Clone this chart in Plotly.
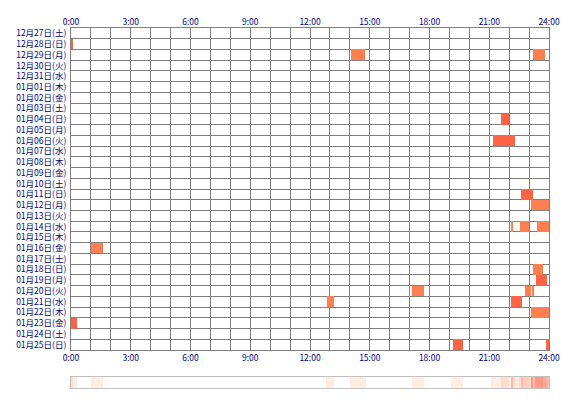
import numpy as np
import plotly.graph_objects as go

# row labels (top to bottom)
days = ["12月27日(土)", "12月28日(日)", "12月29日(月)", "12月30日(火)", "12月31日(水)",
        "01月01日(木)", "01月02日(金)", "01月03日(土)", "01月04日(日)", "01月05日(月)",
        "01月06日(火)", "01月07日(水)", "01月08日(木)", "01月09日(金)", "01月10日(土)",
        "01月11日(日)", "01月12日(月)", "01月13日(火)", "01月14日(水)", "01月15日(木)",
        "01月16日(金)", "01月17日(土)", "01月18日(日)", "01月19日(月)", "01月20日(火)",
        "01月21日(水)", "01月22日(木)", "01月23日(金)", "01月24日(土)", "01月25日(日)"]

# activity blocks: day index, start hour, end hour
bar_day = [1, 2, 2, 8, 10, 15, 15, 16, 18, 18, 18, 18, 20, 22, 23,
           24, 24, 24, 25, 25, 25, 26, 27, 29, 29]
bar_start = [0.0, 14.05, 23.2, 21.6, 21.2, 22.62, 22.7, 23.1, 22.1, 22.55, 22.93, 23.4, 1.0, 23.2, 23.35,
             17.1, 22.8, 23.15, 12.85, 22.1, 22.2, 23.1, 0.0, 19.2, 23.85]
bar_end = [0.08, 14.75, 23.8, 22.0, 22.3, 22.7, 23.2, 24.0, 22.17, 22.9, 23.0, 24.0, 1.6, 23.7, 23.9,
           17.7, 23.1, 23.2, 13.2, 22.15, 22.65, 24.0, 0.3, 19.7, 24.0]
bar_kind = [0, 1, 1, 0, 0, 0, 0, 1, 1, 1, 1, 1, 1, 1, 0,
            1, 1, 1, 1, 0, 0, 1, 0, 0, 0]

hour_labels = ["0:00", "3:00", "6:00", "9:00", "12:00", "15:00", "18:00", "21:00", "24:00"]
hour_ticks = list(range(0, 25, 3))

colors = ["#FF6347", "#FF7F50"]
navy = "#000080"

fig = go.Figure()
fig.add_trace(go.Bar(
    y=[d + 0.5 for d in bar_day],
    x=[e - s for s, e in zip(bar_start, bar_end)],
    base=bar_start, orientation="h", width=1,
    marker=dict(color=[colors[k] for k in bar_kind], line_width=0),
    xaxis="x", yaxis="y", showlegend=False, hoverinfo="skip"))

# summary strip from the blocks
bins = np.arange(0, 24, 0.1)
dens = np.zeros(len(bins))
for s, e in zip(bar_start, bar_end):
    dens += ((bins + 0.1 > s) & (bins < e)).astype(float)
fig.add_trace(go.Heatmap(
    x=bins + 0.05, y=[0], z=[dens], xaxis="x2", yaxis="y2",
    colorscale=[[0, "#ffffff"], [0.25, "#FFE4D4"], [1, "#FF9A88"]],
    showscale=False, hoverinfo="skip"))

font = dict(family="Noto Sans CJK JP", size=8.5, color=navy)
grid = dict(showgrid=True, gridcolor="#808080", gridwidth=1)
# page body adds an 8px offset, so margins are shifted by that amount
fig.update_layout(
    width=570, height=400, margin=dict(l=63, r=29, t=0, b=0, autoexpand=False),
    plot_bgcolor="white", paper_bgcolor="white", font=font, bargap=0,
    xaxis=dict(domain=[0, 1], range=[0, 24], tickvals=hour_ticks, ticktext=hour_labels,
               showgrid=False, minor=dict(dtick=1, **grid), zeroline=False,
               showline=True, linecolor="#808080", mirror=True, ticks="", anchor="y"),
    xaxis3=dict(range=[0, 24], tickvals=hour_ticks, ticktext=hour_labels, side="top",
                overlaying="x", showgrid=False, zeroline=False, anchor="y", ticks=""),
    yaxis=dict(domain=[0.145, 0.95], range=[30, 0], tickvals=[i + 0.5 for i in range(30)],
               ticktext=days, showgrid=False, minor=dict(dtick=1, **grid), zeroline=False,
               showline=True, linecolor="#808080", mirror=True, ticks="", ticklabelstandoff=2),
    xaxis2=dict(domain=[0, 1], range=[0, 24], anchor="y2", showticklabels=False,
                showgrid=False, zeroline=False, showline=True, linecolor="#c0c0c0", mirror=True),
    yaxis2=dict(domain=[0.05, 0.0775], range=[-0.5, 0.5], showticklabels=False,
                showgrid=False, zeroline=False, showline=True, linecolor="#c0c0c0", mirror=True),
)
# invisible trace so the top axis shows
fig.add_trace(go.Scatter(x=[0], y=[0], xaxis="x3", yaxis="y", mode="markers",
                         marker_opacity=0, showlegend=False, hoverinfo="skip"))
fig.write_html("out.html")
